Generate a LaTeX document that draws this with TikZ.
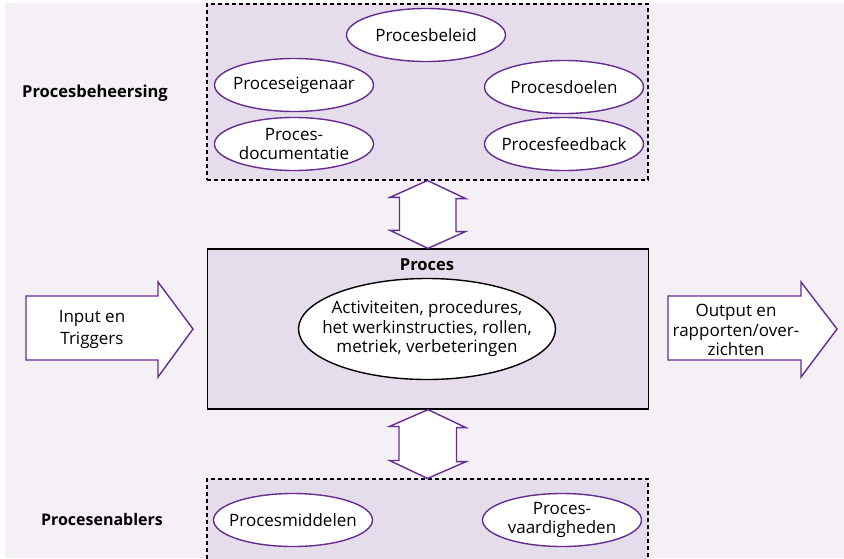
\documentclass[tikz,border=0pt]{standalone}
\usepackage{fontspec}
\setmainfont{Open Sans}
\usetikzlibrary{shapes.geometric}

\definecolor{achter}{RGB}{244,240,246}
\definecolor{vlak}{RGB}{229,221,236}
\definecolor{paars}{RGB}{102,45,145}

\begin{document}
\begin{tikzpicture}[x=1pt,y=-1pt,font=\fontsize{17}{19.5}\selectfont,
        pijl/.style={draw=paars,line width=1.4pt,fill=white,line join=miter}]
        \useasboundingbox (0,0) rectangle (844,558);
        \fill[achter] (5,3) rectangle (844,558);

        \begin{scope}[every node/.style={draw,fill=vlak,minimum width=441pt,inner sep=0pt}]
            \node[dash pattern=on 4pt off 3pt,line width=1.1pt,minimum height=176pt] (beheer) at (427.5,92) {};
            \node[line width=1.3pt,minimum height=160pt] (proces) at (428,329) {};
            \node[dash pattern=on 4pt off 3pt,line width=1.1pt,minimum height=92pt] (enabler) at (427.5,525) {};
        \end{scope}

        \begin{scope}[every node/.style={ellipse,draw=paars,line width=1.4pt,fill=white,
                    minimum width=159pt,minimum height=53pt,inner sep=-30pt,align=center}]
            \node (B1) at (426,35) {Procesbeleid};
            \node (B2) at (294,85) {Proceseigenaar};
            \node (B3) at (294,144) {Proces-\\documentatie};
            \node (B4) at (564,87) {Procesdoelen};
            \node (B5) at (564,144) {Procesfeedback};

            \node (M1) at (293,520) {Procesmiddelen};
            \node (M2) at (562,520) {Proces-\\vaardigheden};

            \node[draw=black,minimum width=257pt,minimum height=101pt] (act) at (427,329)
                {Activiteiten, procedures,\\het werkinstructies, rollen,\\metriek, verbeteringen};
        \end{scope}

        \node[font=\fontsize{16.5}{19}\bfseries] (ptitel) at (427,265) {Proces};
        \node[font=\fontsize{16.5}{19}\bfseries] (lbeheer) at (95,93) {Procesbeheersing};
        \node[font=\fontsize{16}{19}\bfseries] (lenabler) at (102,519) {Procesenablers};

        \draw[pijl] (beheer.south) -- ++(38,18) -- ++(-9.5,0) -- ++(0,33) -- ++(9.5,0)
            -- (proces.north) -- ++(-38,-18) -- ++(9.5,0) -- ++(0,-33) -- ++(-9.5,0) -- cycle;
        \draw[pijl] (proces.south) -- ++(38,18) -- ++(-9.5,0) -- ++(0,34) -- ++(9.5,0)
            -- (enabler.north) -- ++(-38,-18) -- ++(9.5,0) -- ++(0,-34) -- ++(-9.5,0) -- cycle;

        \draw[pijl] (26,296) -- (158,296) -- (158,282) -- (193,329) -- (158,377) -- (158,360) -- (26,360) -- cycle;
        \node[align=center,font=\fontsize{17}{22}\selectfont] (input) at (92,329) {Input en\\Triggers};

        \draw[pijl] (668,296) -- (801,296) -- (801,282) -- (837,329) -- (801,377) -- (801,360) -- (668,360) -- cycle;
        \node[align=center] (output) at (736,330) {Output en\\rapporten/over-\\zichten};
    \end{tikzpicture}
\end{document}
